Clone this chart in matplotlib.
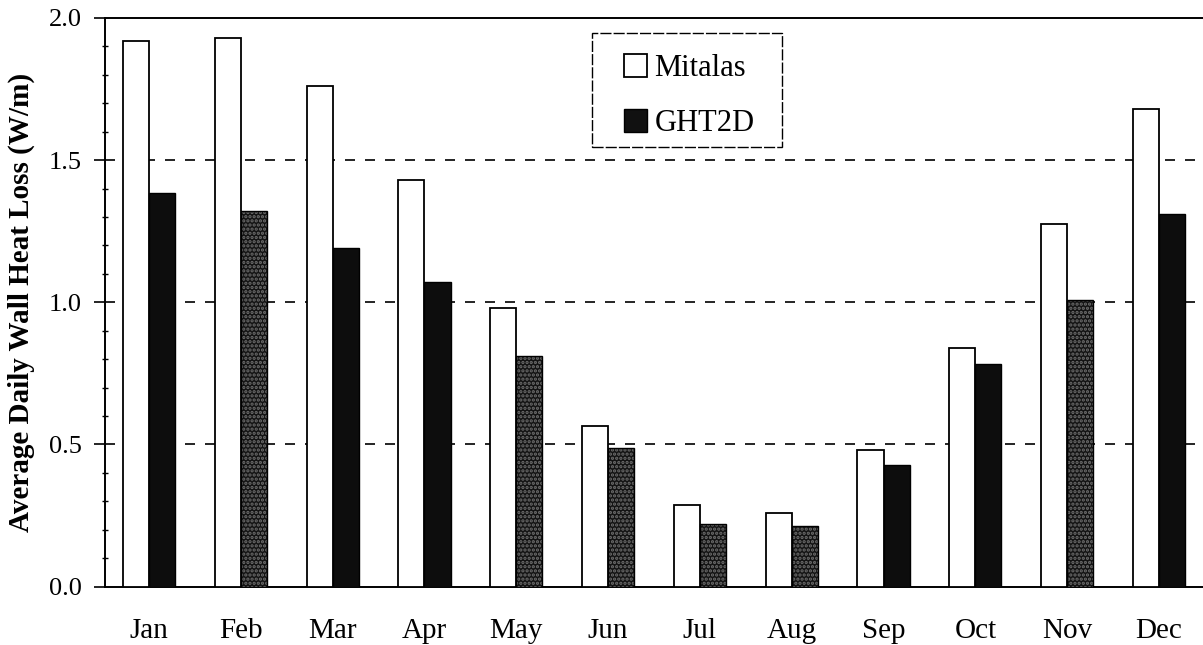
import matplotlib
matplotlib.use("Agg")
import matplotlib.pyplot as plt
from matplotlib.patches import Rectangle
import numpy as np
from matplotlib.ticker import MultipleLocator

plt.rcParams['font.family'] = ['Liberation Serif', 'DejaVu Serif']
plt.rcParams['hatch.linewidth'] = 1.6

months = ["Jan", "Feb", "Mar", "Apr", "May", "Jun",
          "Jul", "Aug", "Sep", "Oct", "Nov", "Dec"]
mitalas = [1.92, 1.93, 1.76, 1.43, 0.98, 0.565, 0.287, 0.257, 0.48, 0.84, 1.275, 1.68]
ght2d = [1.383, 1.321, 1.19, 1.072, 0.811, 0.488, 0.219, 0.213, 0.427, 0.782, 1.008, 1.309]

# screen-tone look of the dark bars: some print solid, some stippled
stippled = [False, True, False, False, True, True, True, True, False, False, True, False]

W, H = 1203, 645
fig = plt.figure(figsize=(W / 100, H / 100), dpi=100)
ax_left, ax_bottom_px, ax_top_px = 105, 586.5, 18
ax = fig.add_axes([ax_left / W, 1 - ax_bottom_px / H, (W - ax_left) / W,
                   (ax_bottom_px - ax_top_px) / H])
ax_w = W - ax_left
ax_h = ax_bottom_px - ax_top_px

x = np.arange(len(months))
w = 0.285

ax.bar(x - w / 2, mitalas, width=w, facecolor="white", edgecolor="black",
       linewidth=1.3, zorder=3, label="Mitalas")
for xi, v, st in zip(x, ght2d, stippled):
    if st:
        ax.bar(xi + w / 2, v, width=w, facecolor="#141414", edgecolor="#6e6e6e",
               hatch="....", linewidth=0, zorder=3)
        ax.bar(xi + w / 2, v, width=w, facecolor="none", edgecolor="black",
               linewidth=1.0, zorder=4)
    else:
        ax.bar(xi + w / 2, v, width=w, facecolor="#0d0d0d", edgecolor="black",
               linewidth=1.0, zorder=3)

# legend handle for the dark series
ax.bar([np.nan], [np.nan], width=w, facecolor="#111111", edgecolor="black",
       label="GHT2D")

ax.set_xlim(-0.48, 11.48)
ax.set_ylim(0, 2.0)
ax.set_xticks(x)
ax.set_xticklabels(months, fontsize=21)
ax.tick_params(axis="x", length=0, pad=23)
ax.set_yticks([0.0, 0.5, 1.0, 1.5, 2.0])
ax.set_yticklabels(["0.0", "0.5", "1.0", "1.5", "2.0"], fontsize=19)
ax.yaxis.set_minor_locator(MultipleLocator(0.1))
ax.tick_params(axis="y", which="major", direction="out", length=8, width=1.2, pad=9)
ax.tick_params(axis="y", which="minor", direction="inout", length=5, width=1.0)

for yv in (0.5, 1.0, 1.5):
    ax.axhline(yv, color="black", linestyle=(0, (6, 6)), linewidth=1.2, zorder=1)

ax.spines["right"].set_visible(False)
for s in ("left", "top", "bottom"):
    ax.spines[s].set_linewidth(1.4)

ax.set_ylabel("Average Daily Wall Heat Loss (W/m)", fontsize=21, fontweight="bold")
ax.yaxis.set_label_coords((35 - ax_left) / ax_w, 0.5)

# legend entries without frame, boxed by a separate rectangle
leg = ax.legend(loc="upper left",
                bbox_to_anchor=((624 - ax_left) / ax_w, 1 - (54 - ax_top_px) / ax_h),
                fontsize=22, frameon=False, labelspacing=0.85,
                handlelength=0.75, handleheight=0.75, handletextpad=0.25,
                borderpad=0, borderaxespad=0)
box = Rectangle(((592 - ax_left) / ax_w, (ax_bottom_px - 147) / ax_h),
                190 / ax_w, 114 / ax_h, transform=ax.transAxes,
                facecolor="white", edgecolor="black", linewidth=1.0,
                linestyle=(0, (8, 1.5)), zorder=5)
ax.add_patch(box)
leg.set_zorder(6)

fig.savefig("out.png", dpi=100)
